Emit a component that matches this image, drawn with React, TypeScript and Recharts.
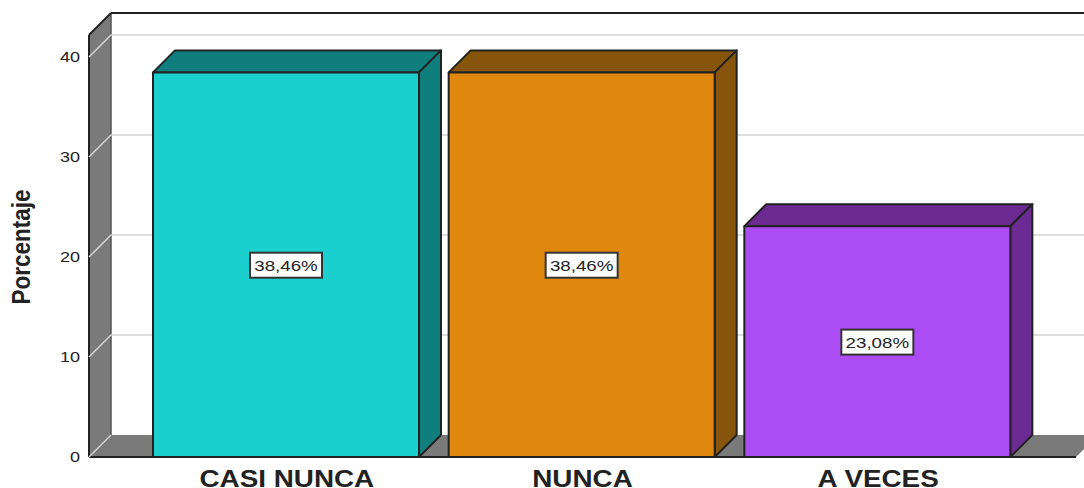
import React from "react";
import { Bar, BarChart, CartesianGrid, LabelList, ReferenceArea, XAxis, YAxis } from "recharts";

const categories = ["CASI NUNCA", "NUNCA", "A VECES"];
const percentages = [38.46, 38.46, 23.08];
const yTicks = [0, 10, 20, 30, 40];

const frontColors = ["#1BCFCF", "#E0880E", "#AB4CF4"];
const sideColors = ["#117E7E", "#86540A", "#6B2B92"];

const DEPTH = 22;
const PAD_LEFT = 49;
const PAD_RIGHT = 59;
const FONT = "'Liberation Sans', Arial, sans-serif";
const EDGE = "#222222";
const WALL = "#7A7A7A";
const GRID = "#D4D4D4";

const data = categories.map((name, i) => ({ name, value: percentages[i] }));

// the reference area only spans the padded band range, so widen it back to the full plot
function Walls({ x: padX, y, width: padW, height }: any) {
    const x = padX - PAD_LEFT;
    const right = padX + padW + PAD_RIGHT;
    const bottom = y + height;
    return (
        <g>
            <polygon
                points={`${x},${y} ${x + DEPTH},${y - DEPTH} ${x + DEPTH},${bottom - DEPTH} ${x},${bottom}`}
                fill={WALL}
            />
            <polygon
                points={`${x},${bottom} ${x + DEPTH},${bottom - DEPTH} ${right + 14},${bottom - DEPTH} ${right - 8},${bottom}`}
                fill={WALL}
            />
            <line x1={x + DEPTH} y1={y - DEPTH} x2={x + DEPTH} y2={bottom - DEPTH} stroke="#555555" strokeWidth={1.5} />
            <line x1={x + DEPTH} y1={y - DEPTH} x2={right} y2={y - DEPTH} stroke={EDGE} strokeWidth={2} />
            <line x1={x} y1={y} x2={x} y2={bottom} stroke={EDGE} strokeWidth={2} />
            <line x1={x} y1={y} x2={x + DEPTH} y2={y - DEPTH} stroke={EDGE} strokeWidth={2} />
            <line x1={x} y1={bottom} x2={right - 8} y2={bottom} stroke={EDGE} strokeWidth={2} />
        </g>
    );
}

// gridline runs along the side wall, then across the back wall; the zero line stops at the floor
function GridLine({ x1, y1, x2, y, height }: any) {
    const onFloor = Math.abs(y1 - (y + height)) < 1;
    const end = onFloor ? "" : ` ${x2},${y1 - DEPTH}`;
    return (
        <polyline
            points={`${x1},${y1} ${x1 + DEPTH},${y1 - DEPTH}${end}`}
            fill="none"
            stroke={GRID}
            strokeWidth={1.5}
        />
    );
}

function Bar3D({ x, y, width, height, index }: any) {
    const right = x + width;
    const bottom = y + height;
    return (
        <g stroke={EDGE} strokeWidth={2} strokeLinejoin="round">
            <polygon
                points={`${x},${y} ${x + DEPTH},${y - DEPTH} ${right + DEPTH},${y - DEPTH} ${right},${y}`}
                fill={sideColors[index]}
            />
            <polygon
                points={`${right},${y} ${right + DEPTH},${y - DEPTH} ${right + DEPTH},${bottom - DEPTH} ${right},${bottom}`}
                fill={sideColors[index]}
            />
            <rect x={x} y={y} width={width} height={height} fill={frontColors[index]} />
        </g>
    );
}

function ValueBox({ x, y, width, height, value }: any) {
    const cx = x + width / 2;
    const cy = y + height / 2;
    return (
        <g>
            <rect x={cx - 36} y={cy - 12} width={72} height={25} fill="#FFFFFF" stroke="#333333" strokeWidth={2} />
            <text
                transform={`translate(${cx},${cy + 6}) scale(1.25,1)`}
                textAnchor="middle"
                fontFamily={FONT}
                fontSize={15}
                fill="#222222"
            >
                {Number(value).toFixed(2).replace(".", ",")}%
            </text>
        </g>
    );
}

function CategoryTick({ x, payload }: any) {
    return (
        <text
            transform={`translate(${x + 1},487) scale(1.16,1)`}
            textAnchor="middle"
            fontFamily={FONT}
            fontSize={24}
            fontWeight="bold"
            fill="#222222"
        >
            {payload.value}
        </text>
    );
}

function ValueTick({ x, y, payload }: any) {
    return (
        <text
            transform={`translate(${x},${y + 5}) scale(1.2,1)`}
            textAnchor="end"
            fontFamily={FONT}
            fontSize={15}
            fill="#222222"
        >
            {payload.value}
        </text>
    );
}

function AxisTitle() {
    return (
        <text
            transform="translate(30,247) rotate(-90) scale(0.98,1.1)"
            textAnchor="middle"
            fontFamily={FONT}
            fontSize={23}
            fontWeight="bold"
            fill="#222222"
        >
            Porcentaje
        </text>
    );
}

export default function App() {
    return (
        <div style={{ position: "absolute", left: 0, top: 0, width: 1084, height: 488, background: "#FFFFFF" }}>
            <BarChart
                width={1084}
                height={488}
                data={data}
                margin={{ top: 35, right: 0, left: 0, bottom: 0 }}
                barSize={266}
            >
                <ReferenceArea y1={0} y2={42.2} shape={<Walls />} ifOverflow="visible" zIndex={-200} />
                <CartesianGrid
                    vertical={false}
                    horizontal={<GridLine />}
                    horizontalValues={yTicks}
                    zIndex={-100}
                />
                <XAxis
                    dataKey="name"
                    height={31}
                    axisLine={false}
                    tickLine={false}
                    interval={0}
                    padding={{ left: PAD_LEFT, right: PAD_RIGHT }}
                    tick={<CategoryTick />}
                />
                <YAxis
                    width={89}
                    domain={[0, 42.2]}
                    ticks={yTicks}
                    axisLine={false}
                    tickLine={false}
                    tickMargin={3}
                    tick={<ValueTick />}
                    label={{ content: <AxisTitle /> }}
                />
                <Bar dataKey="value" shape={<Bar3D />} isAnimationActive={false}>
                    <LabelList dataKey="value" content={<ValueBox />} />
                </Bar>
            </BarChart>
        </div>
    );
}
